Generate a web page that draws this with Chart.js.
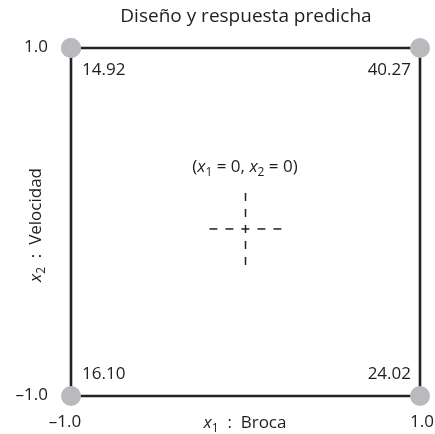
<!DOCTYPE html>
<html><head><meta charset="utf-8">
<script src="https://cdn.jsdelivr.net/npm/chart.js@4/dist/chart.umd.min.js"></script>
<style>html,body{margin:0;padding:0;background:#fff;}#wrap{width:435px;height:434px;}</style>
</head><body><div id="wrap"><canvas id="c" width="435" height="434"></canvas></div>
<script>
const x1Levels = [-1, 1, 1, -1, -1];
const x2Levels = [1, 1, -1, -1, 1];
const predicted = [14.92, 40.27, 24.02, 16.10];
const xTicks = [-1, 1];
const yTicks = [-1, 1];
const crossCenter = [0, -0.04];
const crossHalf = 0.207;
const title = 'Diseño y respuesta predicha';
const xTitle = 'Broca';
const yTitle = 'Velocidad';

const FONT = '"Open Sans", "Noto Sans", sans-serif';
const squarePts = x1Levels.map((x, i) => ({x, y: x2Levels[i]}));
const hCross = [{x: crossCenter[0] - crossHalf, y: crossCenter[1]}, {x: crossCenter[0] + crossHalf, y: crossCenter[1]}];
const vCross = [{x: crossCenter[0], y: crossCenter[1] + crossHalf}, {x: crossCenter[0], y: crossCenter[1] - crossHalf}];

function drawSub(ctx, parts, x, y, align, size) {
  const measure = p => { ctx.font = (p.it ? 'italic ' : '') + (p.sub ? Math.round(size * 0.7) : size) + 'px ' + FONT; return ctx.measureText(p.t).width; };
  const total = parts.reduce((s, p) => s + measure(p), 0);
  let cx = align === 'center' ? x - total / 2 : (align === 'right' ? x - total : x);
  ctx.textAlign = 'left';
  ctx.textBaseline = 'alphabetic';
  parts.forEach(p => {
    const w = measure(p);
    ctx.fillText(p.t, cx, y + (p.sub ? size * 0.22 : 0));
    cx += w;
  });
}

const labelPlugin = {
  id: 'labels',
  afterDraw(chart) {
    const ctx = chart.ctx, xs = chart.scales.x, ys = chart.scales.y;
    ctx.save();
    ctx.fillStyle = '#1e1e1e';
    const fs = 17;
    ctx.font = '19px ' + FONT; ctx.textAlign = 'center'; ctx.textBaseline = 'middle';
    ctx.fillText(title, 246, 17);
    ctx.font = fs + 'px ' + FONT; ctx.textAlign = 'right';
    yTicks.forEach(v => ctx.fillText(v < 0 ? '\u2013' + Math.abs(v).toFixed(1) : v.toFixed(1), 48, ys.getPixelForValue(v) - 1));
    ctx.textAlign = 'center';
    xTicks.forEach(v => ctx.fillText(v < 0 ? '\u2013' + Math.abs(v).toFixed(1) : v.toFixed(1), xs.getPixelForValue(v) + (v < 0 ? -6 : 2), 422));
    const pos = [[-1, 1], [1, 1], [1, -1], [-1, -1]];
    predicted.forEach((val, i) => {
      const [vx, vy] = pos[i];
      const px = xs.getPixelForValue(vx), py = ys.getPixelForValue(vy);
      ctx.textAlign = vx < 0 ? 'left' : 'right';
      ctx.fillText(val.toFixed(2), vx < 0 ? px + 11 : px - 9, vy > 0 ? py + 22 : py - 22);
    });
    drawSub(ctx, [{t: 'x', it: true}, {t: '1', sub: true}, {t: '  :  ' + xTitle}], 245, 428, 'center', fs);
    ctx.save();
    ctx.translate(41, 225); ctx.rotate(-Math.PI / 2);
    drawSub(ctx, [{t: 'x', it: true}, {t: '2', sub: true}, {t: '  :  ' + yTitle}], 0, 0, 'center', fs);
    ctx.restore();
    drawSub(ctx, [{t: '('}, {t: 'x', it: true}, {t: '1', sub: true}, {t: ' = 0, '}, {t: 'x', it: true}, {t: '2', sub: true}, {t: ' = 0)'}], 245, 172, 'center', fs);
    ctx.restore();
  }
};

new Chart(document.getElementById('c'), {
  type: 'scatter',
  data: {
    datasets: [
      {data: hCross, showLine: true, borderColor: '#222', borderWidth: 1.5, borderDash: [8, 8], pointRadius: 0, clip: false},
      {data: vCross, showLine: true, borderColor: '#222', borderWidth: 1.5, borderDash: [8, 8], pointRadius: 0, clip: false},
      {data: squarePts, showLine: true, borderColor: '#222', borderWidth: 2.6, pointRadius: 10, pointHoverRadius: 10,
       pointBackgroundColor: '#b9babd', pointBorderWidth: 0, pointBorderColor: '#b9babd', clip: false}
    ]
  },
  options: {
    responsive: false, animation: false, events: [],
    layout: {padding: {left: 71, right: 15, top: 48, bottom: 38}},
    plugins: {legend: {display: false}, tooltip: {enabled: false}},
    scales: {
      x: {type: 'linear', min: -1, max: 1, display: false},
      y: {type: 'linear', min: -1, max: 1, display: false}
    }
  },
  plugins: [labelPlugin]
});
</script></body></html>
